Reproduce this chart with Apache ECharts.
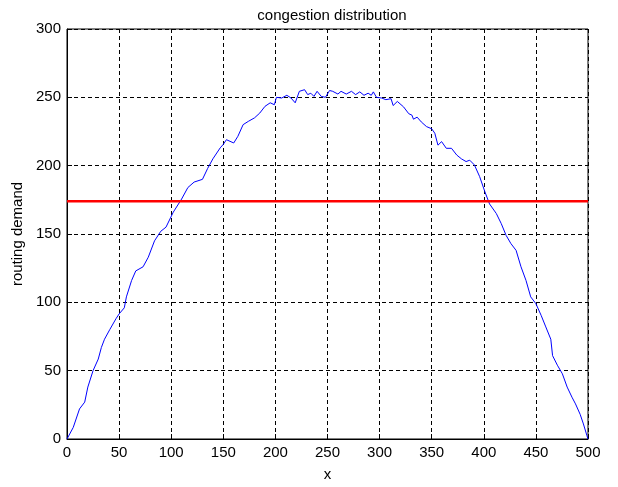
<!DOCTYPE html>
<html>
<head>
<meta charset="utf-8">
<script src="https://cdn.jsdelivr.net/npm/echarts@6/dist/echarts.min.js"></script>
<style>html,body{margin:0;padding:0;background:#fff;}#c{width:618px;height:487px;}</style>
</head>
<body>
<div id="c"></div>
<script>
const xs = [0,6,12,17,20,25,30,33,36,41,47,50,55,57,62,66,73,78,84,90,95,102,110,116,122,130,135,140,147,150,153,160,164,169,174,180,185,190,195,199,201,206,211,215,219,223,228,231,234,237,240,244,248,252,255,260,263,268,273,277,281,285,289,292,294,297,302,306,311,313,317,323,328,331,332.5,336,340,345,350,353,356,359.5,364,369,374,378.5,383,386.5,391,396,401,405.5,412,416.7,421.4,426,431,435.7,440.5,445,450,455,459.5,464.3,466,470.6,475.4,480,484.6,488,492.5,495.6,499,500];
const demand = [0,8.5,22,27,38,50,58.5,67,73,80,88,91.5,96,104,116,123,126,133,145,152,155,166,175.6,184,188,190,198,205,213,215.6,219,216.6,221.5,230,232.4,235,238.5,243.4,246,244.6,250,249.5,251.5,249.5,246,254.4,255.6,252,253,250.7,254.4,250.7,250,255,254.4,252.4,254.4,252.4,254.4,252,254,251.5,253,251.5,254,250,249.5,248.3,249,244,247,243,238,237,234,235.5,232,228.6,227,223.7,215,217.6,212.7,212.7,207.8,205,203,204,200.5,192,181,172,165,157.7,149,143,138,126,116,104,99,90.5,82,73,61,54,47.7,38,30.6,25.7,18,11,2.4,0];
const thresholdX = [0, 500];
const thresholdY = [174, 174];
const xTicks = [0,50,100,150,200,250,300,350,400,450,500];
const yTicks = [0,50,100,150,200,250,300];

const font = 'Arial, "Liberation Sans", sans-serif';
const chart = echarts.init(document.getElementById('c'), null, {renderer:'canvas'});
chart.setOption({
  animation: false,
  backgroundColor: '#fff',
  title: {
    text: 'congestion distribution',
    left: 327, top: 3, textAlign: 'center',
    textStyle: {fontSize: 15, fontWeight: 'normal', color: '#000', fontFamily: font}
  },
  grid: {left: 67, right: 30, top: 29, bottom: 48, show: true, borderColor: '#000', borderWidth: 1, backgroundColor: '#fff'},
  xAxis: {
    type: 'value', min: xTicks[0], max: xTicks[xTicks.length-1], interval: 50,
    name: 'x', nameLocation: 'middle', nameGap: 28,
    nameTextStyle: {fontSize: 15, color: '#000', fontFamily: font},
    axisLine: {lineStyle: {color: '#000', width: 1}},
    axisTick: {inside: true, length: 5, lineStyle: {color: '#000'}},
    axisLabel: {fontSize: 15, color: '#000', fontFamily: font, margin: 6},
    splitLine: {show: true, lineStyle: {color: '#000', type: [4,3], width: 1}}
  },
  yAxis: {
    type: 'value', min: yTicks[0], max: yTicks[yTicks.length-1], interval: 50,
    name: 'routing demand', nameLocation: 'middle', nameGap: 37,
    nameTextStyle: {fontSize: 15, color: '#000', fontFamily: font},
    axisLine: {show: true, lineStyle: {color: '#000', width: 1}},
    axisTick: {show: true, inside: true, length: 5, lineStyle: {color: '#000'}},
    axisLabel: {fontSize: 15, color: '#000', fontFamily: font, margin: 6},
    splitLine: {show: true, lineStyle: {color: '#000', type: [4,3], width: 1}}
  },
  series: [
    {
      type: 'line', showSymbol: false, symbol: 'none',
      data: xs.map((x,i)=>[x, demand[i]]),
      lineStyle: {color: '#0000ff', width: 1},
      itemStyle: {color: '#0000ff'}
    },
    {
      type: 'line', showSymbol: false, symbol: 'none',
      data: thresholdX.map((x,i)=>[x, thresholdY[i]]),
      lineStyle: {color: '#ff0000', width: 2.5},
      itemStyle: {color: '#ff0000'}
    }
  ]
});
</script>
</body>
</html>
